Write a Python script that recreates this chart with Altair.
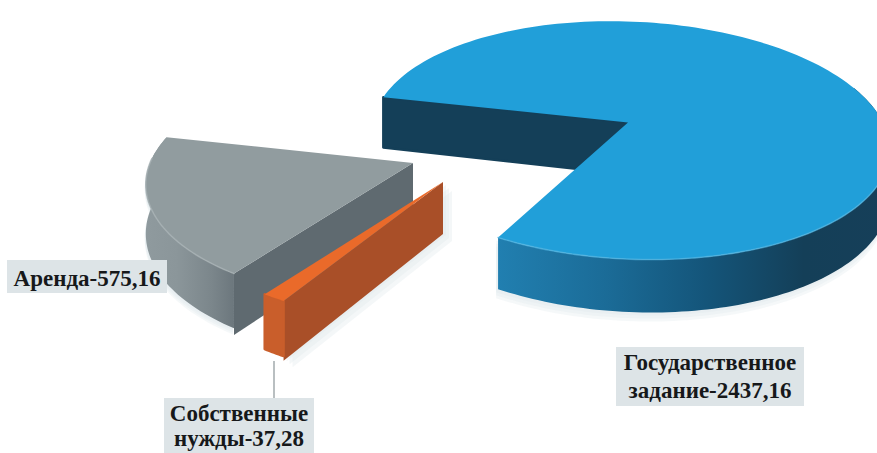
import math
import altair as alt

# Budget shares shown on the exploded pie
categories = ["Государственное задание", "Аренда", "Собственные нужды"]
values = [2437.16, 575.16, 37.28]
label_lines = [
    ["Государственное", "задание-2437,16"],
    ["Аренда-575,16"],
    ["Собственные", "нужды-37,28"],
]

W, H = 877, 453
PROJ = dict(type="identity", scale=1, translate=[0, 0])

total = sum(values)
sweeps = [v / total * 360 for v in values]
START = 167.0  # plane angle where the largest slice ends and the next begins
KEY = 0.15     # foreshortening of the far side of the disc


def rim(apex, a, b, shear, theta):
    """Project a point of the tilted disc rim to chart coordinates."""
    t = math.radians(theta)
    w = 1 + KEY * math.sin(t)
    dy = -b * math.sin(t) / w
    dx = a * math.cos(t) / w + shear * dy
    return (apex[0] + dx, apex[1] + dy, w)


def arc(apex, a, b, shear, t0, t1, n=90):
    return [rim(apex, a, b, shear, t0 + (t1 - t0) * i / n) for i in range(n + 1)]


def poly(points):
    ring = [[p[0], p[1]] for p in points]
    ring.append(ring[0])
    return {"type": "Feature", "properties": {}, "geometry": {"type": "Polygon", "coordinates": [ring]}}


def face(points, fill, opacity=1.0, round_edge=None):
    """One flat polygon; round_edge paints a thin same-coloured outline to soften corners."""
    style = dict(fill=fill, strokeWidth=0, opacity=opacity)
    if round_edge:
        style.update(stroke=round_edge, strokeWidth=2.5, strokeJoin="round")
    return alt.Chart(alt.Data(values=[poly(points)])).mark_geoshape(**style).project(**PROJ)


def band(points, color, width, opacity=1.0):
    ring = [[p[0], p[1]] for p in points]
    feat = {"type": "Feature", "properties": {}, "geometry": {"type": "LineString", "coordinates": ring}}
    return alt.Chart(alt.Data(values=[feat])).mark_geoshape(
        filled=False, stroke=color, strokeWidth=width, opacity=opacity, strokeCap="round"
    ).project(**PROJ)


def hgrad(*stops):
    return alt.Gradient(
        gradient="linear", x1=0, x2=1, y1=0, y2=0,
        stops=[alt.GradientStop(color=c, offset=o) for o, c in stops],
    )


def drop(points, depth):
    """Lower a rim edge by the slice thickness, nearer points dropping further."""
    return [(p[0], p[1] + depth / p[2], p[2]) for p in points]


def side(points, depth):
    return points + drop(points, depth)[::-1]


def shift(points, dx, dy):
    return [(p[0] + dx, p[1] + dy, p[2]) for p in points]


# Angular extents of the slices in the disc plane
blue_t0 = START + sweeps[1] + sweeps[2]
blue_t1 = START + 360
grey_t0, grey_t1 = START, START + sweeps[1]
orange_t0, orange_t1 = grey_t1, grey_t1 + sweeps[2]

# Largest slice
A = (628, 122.5, 1.0)
blue = dict(a=255, b=116.5, shear=0.17)
blue_rim = arc(A[:2], blue["a"], blue["b"], blue["shear"], blue_t0, blue_t1, 160)
blue_front = arc(A[:2], blue["a"], blue["b"], blue["shear"], blue_t0, 378, 110)
blue_left = rim(A[:2], blue["a"], blue["b"], blue["shear"], blue_t1)

# Second slice
G = (413, 163, 1.0)
grey_rim = arc(G[:2], 263, 118.5, -0.06, grey_t0, grey_t1, 50)

# Thin slice
O = (443, 182, 1.0)
orange_rim = arc(O[:2], 272, 120.5, 0.0, orange_t0, orange_t1, 8)

layers = []

# Pale ground shadows, stacked to fade outward
for off in (9, 6, 3):
    layers.append(face(shift(side(blue_front, 45), -2, off), "#dfe7ec", 0.3))
    layers.append(face(shift([O, orange_rim[-1]] + drop([orange_rim[-1], O], 50), off, off), "#dfe7ec", 0.35))
    layers.append(face(shift(side(grey_rim, 48), -1, off * 0.7), "#dfe7ec", 0.3))

# Largest slice: inner wall, outer wall, top
layers.append(face([blue_left, A] + drop([A, blue_left], 52), "#143f58", round_edge="#143f58"))
layers.append(face(side(blue_front, 45), hgrad((0, "#217fb0"), (0.27, "#1b6c98"), (0.53, "#14557a"), (0.78, "#143f58"), (1, "#163f59"))))
layers.append(face([A] + blue_rim, "#219fd9"))
layers.append(band(blue_front[:80], "#4fb4e2", 1.6, 0.7))

# Second slice: cut wall, outer wall, top
layers.append(face([G, grey_rim[-1]] + drop([grey_rim[-1], G], 54), "#5f6a70"))
layers.append(face(side(grey_rim, 48), hgrad((0, "#8f9a9e"), (0.35, "#8b969a"), (0.75, "#7b868b"), (1, "#6c777d"))))
layers.append(face([G] + grey_rim, "#919c9f"))
layers.append(band(grey_rim[8:], "#a6b0b3", 1.6, 0.8))

# Thin slice: cut wall, outer wall, top
layers.append(face([O, orange_rim[-1]] + drop([orange_rim[-1], O], 52), "#a94f28"))
layers.append(face(side(orange_rim, 48), "#c95e2b", round_edge="#c95e2b"))
layers.append(face([O] + orange_rim, "#ea6a2a"))

xs = alt.Scale(domain=[0, W], nice=False, zero=False)
ys_ = alt.Scale(domain=[H, 0], nice=False, zero=False)

# Leader line from the thin slice to its label
leader = [{"x": 274, "y": 361, "y2": 398}]
layers.append(
    alt.Chart(alt.Data(values=leader))
    .mark_rule(color="#8a9498", strokeWidth=1.2)
    .encode(
        x=alt.X("x:Q", scale=xs, axis=None),
        y=alt.Y("y:Q", scale=ys_, axis=None),
        y2="y2:Q",
    )
)

# Label plates and their text
plates = [
    {"x": 616, "x2": 804, "y": 347, "y2": 406},
    {"x": 7, "x2": 167, "y": 260, "y2": 293},
    {"x": 164, "x2": 314, "y": 398, "y2": 453},
]
text_rows = []
anchors = [(710, [363, 391]), (87, [279]), (239, [414, 439])]
for lines, (cx, ys) in zip(label_lines, anchors):
    for line, cy in zip(lines, ys):
        text_rows.append({"x": cx, "y": cy, "t": line})

layers.append(
    alt.Chart(alt.Data(values=plates)).mark_rect(color="#dde4e7").encode(
        x=alt.X("x:Q", scale=xs, axis=None), x2="x2:Q",
        y=alt.Y("y:Q", scale=ys_, axis=None), y2="y2:Q",
    )
)
layers.append(
    alt.Chart(alt.Data(values=text_rows)).mark_text(
        font="Liberation Serif", fontWeight="bold", fontSize=23, color="#16181a", baseline="middle", align="center"
    ).encode(
        x=alt.X("x:Q", scale=xs, axis=None),
        y=alt.Y("y:Q", scale=ys_, axis=None),
        text="t:N",
    )
)

chart = alt.layer(*layers).properties(
    width=W, height=H, padding=0, autosize=alt.AutoSizeParams(type="none"), background="white"
).configure_view(stroke=None)

chart.save("out.html", embed_options={"renderer": "svg", "actions": False})
